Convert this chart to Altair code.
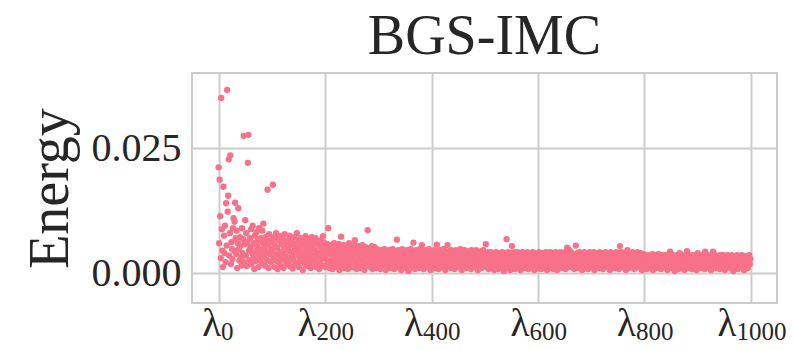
import altair as alt
import pandas as pd

# Energy values, in units of 1e-4, ten per row
energy_000 = [212, 60, 187, 114, 30, 351, 88, 45, 12, 173,
              75, 40, 95, 22, 140, 55, 367, 123, 155, 228,
              35, 80, 236, 18, 62, 48, 28, 90, 110, 45,
              103, 141, 70, 38, 85, 10, 60, 130, 48, 25,
              72, 55, 32, 15, 90, 40, 68, 275, 22, 58,
              106, 35, 80, 14, 62, 221, 277, 45, 26, 70,
              52, 88, 18, 40, 95, 30, 60, 8, 75, 44,
              24, 82, 55, 36, 66, 12, 90, 48, 28, 70,
              40, 20, 85, 60, 99, 33, 50, 15, 72, 42,
              62, 26, 167, 55, 10, 78, 38, 65, 22, 48]
energy_100 = [45, 62, 177, 30, 72, 12, 55, 38, 80, 24,
              50, 8, 66, 35, 20, 74, 42, 15, 58, 28,
              70, 40, 10, 52, 78, 25, 62, 33, 18, 48,
              65, 22, 44, 75, 14, 56, 30, 68, 38, 9,
              60, 26, 72, 46, 16, 54, 36, 80, 20, 42,
              64, 12, 50, 30, 70, 24, 58, 40, 6, 66,
              34, 52, 18, 74, 44, 28, 60, 14, 48, 36,
              68, 22, 56, 10, 40, 72, 30, 50, 16, 62,
              26, 46, 70, 12, 38, 58, 20, 64, 32, 8,
              54, 42, 18, 66, 28, 48, 74, 14, 36, 60]
energy_200 = [30, 52, 12, 44, 22, 58, 90, 38, 10, 48,
              26, 56, 16, 40, 8, 50, 34, 60, 18, 44,
              28, 54, 12, 38, 48, 20, 58, 6, 42, 32,
              73, 24, 50, 14, 36, 56, 10, 46, 28, 40,
              18, 52, 34, 8, 44, 60, 22, 38, 14, 50,
              30, 48, 12, 42, 26, 56, 66, 20, 36, 8,
              46, 32, 54, 16, 40, 24, 50, 10, 44, 28,
              56, 18, 38, 48, 6, 34, 52, 22, 42, 14,
              86, 30, 50, 20, 40, 12, 46, 26, 54, 8,
              36, 44, 16, 52, 28, 40, 10, 48, 22, 34]
energy_300 = [42, 14, 30, 46, 8, 36, 22, 44, 12, 38,
              26, 48, 18, 34, 6, 40, 28, 44, 16, 32,
              46, 10, 36, 24, 42, 14, 30, 48, 20, 38,
              8, 44, 26, 34, 16, 67, 40, 12, 46, 28,
              36, 18, 42, 6, 32, 48, 22, 38, 14, 44,
              28, 40, 10, 36, 46, 20, 30, 4, 42, 24,
              34, 48, 16, 38, 12, 44, 61, 26, 40, 8,
              32, 46, 18, 36, 22, 42, 10, 30, 48, 14,
              38, 26, 56, 20, 44, 8, 34, 40, 16, 46,
              24, 36, 12, 42, 30, 48, 18, 28, 6, 40]
energy_400 = [34, 44, 14, 26, 40, 10, 46, 20, 36, 30,
              57, 18, 42, 8, 32, 46, 24, 38, 12, 44,
              28, 36, 16, 48, 22, 40, 6, 34, 42, 20,
              56, 30, 14, 44, 26, 38, 10, 46, 22, 36,
              18, 42, 32, 8, 40, 28, 46, 14, 34, 24,
              44, 12, 38, 30, 48, 20, 36, 6, 42, 26,
              34, 16, 46, 28, 40, 10, 32, 44, 22, 38,
              14, 42, 26, 36, 8, 46, 30, 18, 40, 24,
              44, 12, 34, 28, 46, 20, 38, 6, 32, 42,
              16, 36, 24, 44, 10, 40, 28, 46, 18, 34]
energy_500 = [30, 40, 58, 12, 36, 22, 42, 8, 28, 38,
              18, 34, 42, 10, 26, 40, 16, 32, 6, 38,
              24, 42, 14, 30, 36, 8, 40, 20, 34, 28,
              12, 38, 26, 42, 16, 32, 4, 36, 22, 40,
              28, 68, 10, 34, 42, 18, 30, 38, 6, 26,
              40, 54, 14, 36, 22, 42, 32, 8, 38, 20,
              34, 28, 42, 12, 36, 24, 40, 6, 30, 38,
              16, 42, 26, 34, 10, 40, 20, 36, 28, 14,
              42, 32, 8, 38, 24, 40, 18, 34, 12, 30,
              42, 22, 36, 6, 40, 28, 16, 38, 32, 10]
energy_600 = [36, 26, 42, 14, 30, 40, 8, 34, 22, 38,
              18, 40, 28, 12, 36, 42, 24, 6, 32, 38,
              20, 34, 10, 42, 28, 36, 16, 40, 26, 8,
              38, 30, 14, 42, 22, 36, 6, 40, 32, 18,
              34, 26, 42, 10, 38, 20, 30, 40, 14, 36,
              24, 42, 8, 34, 28, 51, 49, 20, 46, 12,
              44, 30, 42, 16, 39, 36, 22, 34, 8, 32,
              30, 55, 28, 14, 40, 24, 36, 10, 42, 26,
              18, 38, 32, 6, 40, 22, 34, 42, 12, 28,
              36, 16, 40, 26, 8, 38, 30, 42, 20, 34]
energy_700 = [12, 40, 28, 36, 18, 42, 6, 32, 24, 38,
              30, 14, 40, 22, 36, 10, 42, 28, 34, 16,
              38, 26, 8, 40, 32, 20, 36, 42, 12, 30,
              24, 38, 16, 34, 40, 6, 28, 42, 22, 36,
              14, 32, 40, 26, 10, 38, 30, 42, 18, 34,
              24, 40, 8, 36, 54, 28, 20, 42, 32, 12,
              38, 26, 40, 16, 34, 6, 30, 42, 46, 22,
              36, 10, 40, 28, 18, 38, 32, 14, 42, 24,
              34, 8, 40, 26, 36, 20, 30, 42, 12, 38,
              22, 34, 16, 40, 28, 6, 36, 24, 38, 30]
energy_800 = [14, 32, 24, 36, 8, 28, 34, 18, 30, 10,
              36, 22, 32, 12, 26, 38, 6, 30, 20, 34,
              16, 36, 28, 10, 32, 24, 38, 14, 30, 20,
              34, 8, 28, 36, 18, 32, 24, 12, 36, 26,
              30, 16, 34, 6, 28, 36, 20, 32, 43, 14,
              26, 34, 10, 30, 36, 18, 28, 4, 34, 22,
              32, 14, 36, 26, 8, 30, 40, 20, 34, 12,
              28, 36, 16, 32, 22, 6, 34, 26, 30, 18,
              44, 10, 32, 24, 36, 14, 28, 34, 20, 8,
              30, 36, 18, 26, 34, 12, 32, 22, 6, 28]
energy_900 = [40, 16, 34, 24, 30, 10, 36, 20, 28, 32,
              14, 34, 26, 8, 43, 30, 18, 36, 22, 32,
              12, 28, 34, 20, 36, 6, 30, 24, 34, 43,
              16, 32, 26, 36, 10, 28, 34, 18, 30, 22,
              34, 8, 36, 24, 30, 14, 32, 26, 36, 18,
              28, 6, 34, 22, 30, 16, 36, 26, 12, 32,
              24, 34, 10, 30, 36, 18, 28, 4, 32, 22,
              34, 14, 30, 26, 36, 8, 28, 34, 20, 32,
              12, 30, 24, 36, 18, 34, 28, 6, 32, 22,
              30, 14, 34, 26, 10, 32, 24, 36, 18, 28]

x_ticks = [0, 200, 400, 600, 800, 1000]
x_tick_symbol = "λ"
y_ticks = [0.0, 0.025]

blocks = [energy_000, energy_100, energy_200, energy_300, energy_400,
          energy_500, energy_600, energy_700, energy_800, energy_900]
values = [v * 1e-4 for b in blocks for v in b]
df = pd.DataFrame({"idx": list(range(len(values))), "energy": values})
ticks_df = pd.DataFrame({"idx": x_ticks})

x_scale = alt.Scale(domain=[-50, 1049], nice=False, zero=False)
# shift of the point where "λ" ends and its subscript starts, so each pair is centred on its tick
split_offset = {"condition": [{"test": "datum.value == 0", "value": 2},
                              {"test": "datum.value == 1000", "value": -15}],
                "value": -9}

points = alt.Chart(df).mark_circle(size=40, opacity=1, color="#f77189").encode(
    x=alt.X("idx:Q", scale=x_scale,
            axis=alt.Axis(values=x_ticks, labelExpr=f"'{x_tick_symbol}'", title=None,
                          orient="bottom", labelFontSize=39, labelAlign="right",
                          labelBaseline="alphabetic", labelPadding=32,
                          labelOffset=split_offset)),
    y=alt.Y("energy:Q", scale=alt.Scale(domain=[-0.006, 0.0401], nice=False, zero=False),
            axis=alt.Axis(values=y_ticks, format=".3f", title="Energy",
                          labelFontSize=40, labelPadding=11,
                          titleFontSize=56, titlePadding=12)),
)

subscripts = alt.Chart(ticks_df).mark_point(opacity=0).encode(
    x=alt.X("idx:Q", scale=x_scale,
            axis=alt.Axis(values=x_ticks, format="d", title=None, grid=False,
                          orient="bottom", labelFontSize=25, labelAlign="left",
                          labelBaseline="alphabetic", labelPadding=36,
                          labelOffset=split_offset)),
)

chart = alt.layer(points, subscripts).resolve_axis(x="independent").properties(
    width=585, height=230,
    title=alt.TitleParams("BGS-IMC", fontSize=56, font="Liberation Serif",
                          fontWeight="normal", color="#262626", offset=7),
    autosize=alt.AutoSizeParams(type="none"),
    padding={"left": 184, "top": 65, "right": 10, "bottom": 47},
).configure_view(
    stroke="#cccccc", strokeWidth=2
).configure_axis(
    grid=True, gridColor="#cccccc", gridWidth=2, domain=False, ticks=False,
    labelFont="Liberation Serif", titleFont="Liberation Serif",
    labelColor="#262626", titleColor="#262626", titleFontWeight="normal",
)

chart.save("out.html", embed_options={"renderer": "svg", "actions": False})
